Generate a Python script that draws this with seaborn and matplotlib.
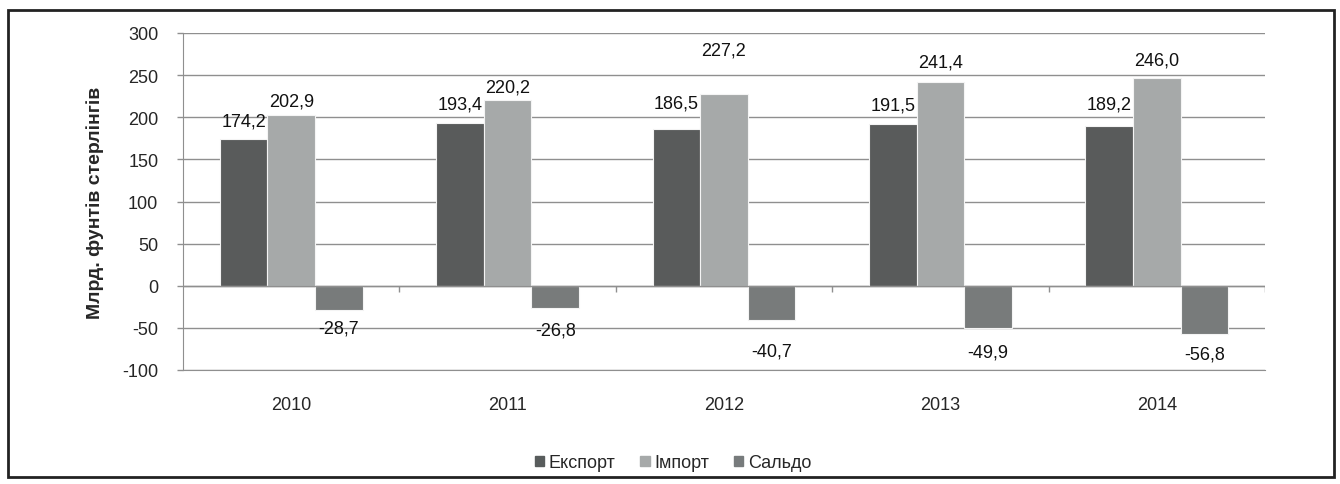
import seaborn as sns
import pandas as pd
import matplotlib.pyplot as plt
from matplotlib.patches import Rectangle

years = ["2010", "2011", "2012", "2013", "2014"]
export = [174.2, 193.4, 186.5, 191.5, 189.2]
imports = [202.9, 220.2, 227.2, 241.4, 246.0]
saldo = [-28.7, -26.8, -40.7, -49.9, -56.8]
series = ["Експорт", "Імпорт", "Сальдо"]
colors = ["#585c5c", "#a6a9a9", "#777b7c"]

# gap (px) between bar end and its value label, as placed in the original
label_gap = [
    [9, 10, 17, 11, 14],
    [5, 5, 36, 12, 10],
    [10, 13, 22, 16, 12],
]

df = pd.DataFrame({
    "year": years * 3,
    "value": export + imports + saldo,
    "series": [s for s in series for _ in years],
})

sns.set_style("white")
plt.rcParams["font.family"] = ["Liberation Sans", "DejaVu Sans"]
plt.rcParams["axes.unicode_minus"] = False

fig = plt.figure(figsize=(13.4, 4.85), dpi=100)
ax = fig.add_axes([183 / 1340, 1 - 371 / 485, 1082 / 1340, 337 / 485])
fig.patches.append(Rectangle((8 / 1340, 7 / 485), 1326 / 1340, 467 / 485,
                             transform=fig.transFigure, fill=False,
                             edgecolor="#222222", linewidth=2))

sns.barplot(data=df, x="year", y="value", hue="series", palette=colors,
            width=0.66, ax=ax, legend=False, edgecolor="#f4f4f4", linewidth=0.8)

grid_c = "#8f8f8f"
ax.set_ylim(-100, 300)
ax.set_yticks(range(-100, 301, 50))
ax.set_xlim(-0.5, len(years) - 0.5)
ax.yaxis.grid(True, color=grid_c, linewidth=1)
ax.set_axisbelow(True)
for s in ["top", "right"]:
    ax.spines[s].set_visible(False)
ax.spines["left"].set_color(grid_c)
ax.spines["bottom"].set_color(grid_c)
ax.tick_params(axis="y", length=4.3, width=1, color=grid_c, labelsize=13, pad=13.5, left=True)
ax.tick_params(axis="x", length=0, labelsize=13, pad=19)

ax.axhline(0, color=grid_c, linewidth=1, zorder=1)
ax.vlines([i + 0.5 for i in range(len(years))], -7, 0, color=grid_c, linewidth=1)

px = 0.72  # points per pixel at dpi 100
for ci, cont in enumerate(ax.containers):
    for bi, bar in enumerate(cont):
        val = bar.get_height()
        x = bar.get_x() + bar.get_width() / 2
        txt = f"{val:.1f}".replace(".", ",")
        gap = label_gap[ci][bi] * px
        if val >= 0:
            ax.annotate(txt, (x, val), xytext=(0, gap), textcoords="offset points",
                        ha="center", va="bottom", fontsize=13, color="#111111")
        else:
            ax.annotate(txt, (x, val), xytext=(0, -gap), textcoords="offset points",
                        ha="center", va="top", fontsize=13, color="#111111")

ax.set_xlabel("")
ax.set_ylabel("Млрд. фунтів стерлінгів", fontsize=14, fontweight="bold", labelpad=13)

handles = [Rectangle((0, 0), 1, 1, color=c) for c in colors]
fig.legend(handles, series, loc="center", bbox_to_anchor=(673 / 1340, 1 - 464 / 485),
           ncol=3, frameon=False, fontsize=13, handlelength=0.5, handleheight=0.5,
           handletextpad=0.25, columnspacing=1.4)

fig.savefig("out.png", dpi=100, facecolor="white")
